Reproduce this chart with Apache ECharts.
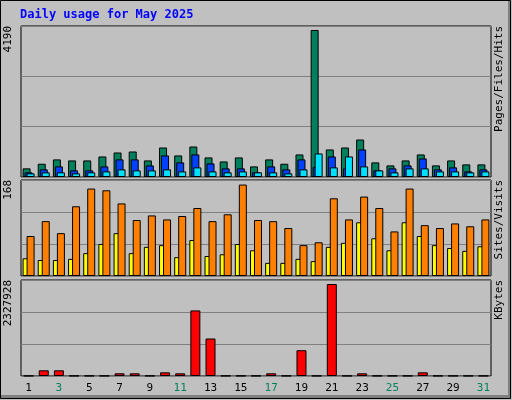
<!DOCTYPE html>
<html>
<head>
<meta charset="utf-8">
<script src="https://cdn.jsdelivr.net/npm/echarts@6/dist/echarts.min.js"></script>
<style>html,body{margin:0;padding:0;background:#c0c0c0}#main{width:512px;height:400px}</style>
</head>
<body>
<div id="main"></div>
<script>
var days = [];
for (var d = 1; d <= 31; d++) days.push(String(d));
var weekend = ['3','4','10','11','17','18','24','25','31'];

var hits  = [240,368,488,460,460,570,680,708,460,819,598,846,543,432,543,294,488,368,626,4080,764,819,1040,405,322,460,626,322,460,350,350];
var files = [129,212,294,184,184,294,488,488,322,598,405,626,377,239,239,129,294,212,488,276,570,240,764,184,239,322,515,212,267,156,212];
var pages = [101,129,129,101,129,156,212,184,184,212,156,267,156,129,156,129,129,101,212,653,267,570,294,184,129,239,239,156,156,129,156];
var visits = [70,96,75,122,153,150,127,98,106,99,105,119,96,108,160,98,96,84,54,59,136,99,139,119,78,153,89,84,92,87,99];
var sites  = [31,28,28,30,40,56,75,40,51,54,33,63,35,38,56,45,23,23,30,26,51,58,94,66,45,94,70,54,49,44,52];
var kbytes = [6000,138000,138000,6000,6000,6000,65000,65000,6000,89000,65000,1590000,909000,6000,6000,6000,65000,6000,625000,6000,2230000,6000,65000,6000,6000,6000,89000,6000,6000,6000,6000];

var maxHits = 4190, maxSites = 168, maxKb = 2327928;

var graph = echarts.init(document.getElementById('main'));
var mono = 'DejaVu Sans Mono';

var grids = [
  { left: 21, right: 21, top: 26, height: 151 },
  { left: 21, right: 21, top: 180, height: 96 },
  { left: 21, right: 21, top: 280, height: 96 }
];
grids.forEach(function (g) { g.show = true; g.backgroundColor = '#c0c0c0'; g.borderColor = '#000'; g.borderWidth = 1; });

function xAxis(i, show) {
  return {
    type: 'category', gridIndex: i, data: days,
    axisLine: { show: false }, axisTick: { show: false },
    axisLabel: {
      show: show, margin: 7, fontFamily: mono, fontSize: 11,
      color: function (v) { return weekend.indexOf(v) >= 0 ? '#00805c' : '#000'; }
    }
  };
}
function yAxis(i, max) {
  return {
    type: 'value', gridIndex: i, min: 0, max: max, interval: max / 3,
    axisLabel: { show: false }, axisLine: { show: false }, axisTick: { show: false },
    splitLine: { lineStyle: { color: '#808080', width: 1 } }
  };
}
function bar(data, color, i, width, gap) {
  return {
    type: 'bar', data: data, xAxisIndex: i, yAxisIndex: i, barWidth: width, barGap: gap,
    itemStyle: { color: color, borderColor: '#000', borderWidth: 1 }, animation: false
  };
}

function sideText(x, y, rich, parts) {
  return {
    type: 'text', x: x, y: y, rotation: Math.PI / 2,
    style: { text: parts, rich: rich, font: '11px ' + mono, align: 'right', verticalAlign: 'middle' }
  };
}
var rich = {
  p: { color: '#00e0ff', fontFamily: mono, fontSize: 11 },
  f: { color: '#0040ff', fontFamily: mono, fontSize: 11 },
  h: { color: '#00805c', fontFamily: mono, fontSize: 11 },
  s: { color: '#ff8000', fontFamily: mono, fontSize: 11 },
  v: { color: '#ffff00', fontFamily: mono, fontSize: 11 },
  k: { color: '#ff0000', fontFamily: mono, fontSize: 11 },
  b: { color: '#000', fontFamily: mono, fontSize: 11 }
};

graph.setOption({
  backgroundColor: '#c0c0c0',
  grid: grids,
  xAxis: [xAxis(0, false), xAxis(1, false), xAxis(2, true)],
  yAxis: [yAxis(0, maxHits), yAxis(1, maxSites), yAxis(2, maxKb)],
  series: [
    bar(hits, '#00805c', 0, 8, '-75%'),
    bar(files, '#0040ff', 0, 8, '-75%'),
    bar(pages, '#00e0ff', 0, 8, '-75%'),
    bar(sites, '#ffff00', 1, 8, '-50%'),
    bar(visits, '#ff8000', 1, 8, '-50%'),
    bar(kbytes, '#ff0000', 2, 10, '0%')
  ],
  graphic: [
    { type: 'rect', shape: { x: 0.5, y: 0.5, width: 510, height: 398 }, style: { fill: null, stroke: '#000' }, z: 100 },
    { type: 'rect', shape: { x: 1, y: 395, width: 510, height: 3 }, style: { fill: '#808080' }, z: 99 },
    { type: 'rect', shape: { x: 508, y: 1, width: 3, height: 397 }, style: { fill: '#808080' }, z: 99 },
    { type: 'text', x: 20, y: 9, style: { text: 'Daily usage for May 2025', fill: '#0000ff', font: 'bold 12px ' + mono } },
    { type: 'text', x: 8, y: 26, rotation: Math.PI / 2, style: { text: '4190', fill: '#000', font: '11px ' + mono, align: 'right', verticalAlign: 'middle' } },
    { type: 'text', x: 8, y: 180, rotation: Math.PI / 2, style: { text: '168', fill: '#000', font: '11px ' + mono, align: 'right', verticalAlign: 'middle' } },
    { type: 'text', x: 8, y: 280, rotation: Math.PI / 2, style: { text: '2327928', fill: '#000', font: '11px ' + mono, align: 'right', verticalAlign: 'middle' } },
    sideText(499, 26, rich, '{p|Pages}{b|/}{f|Files}{b|/}{h|Hits}'),
    sideText(499, 180, rich, '{s|Sites}{b|/}{v|Visits}'),
    sideText(499, 280, rich, '{k|KBytes}')
  ]
});
graph.getZr().configLayer && null;
</script>
</body>
</html>
